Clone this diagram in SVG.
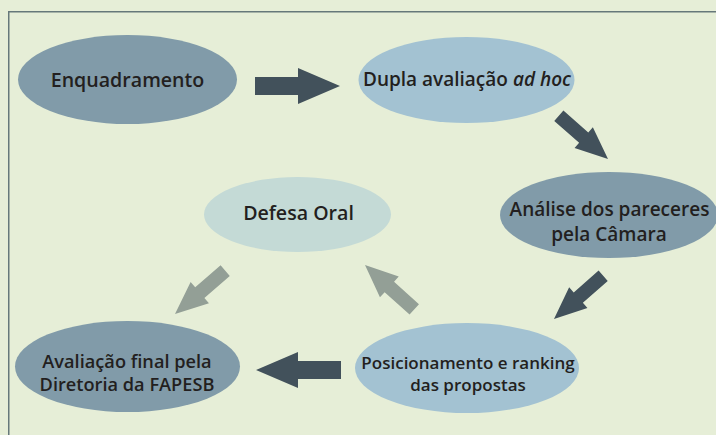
<svg xmlns="http://www.w3.org/2000/svg" width="716" height="435" viewBox="0 0 716 435">
  <defs>
    <style>
      .bg { fill: #e6eed7; }
      .frame { fill: none; stroke: #66787a; stroke-width: 1.5; }
      .dark { fill: #819ba9; }
      .light { fill: #a3c2d2; }
      .pale { fill: #c4dad6; }
      .lbl { font-family: "Open Sans", "Noto Sans", "DejaVu Sans", sans-serif; font-weight: 600; fill: #231f20; text-anchor: middle; }
      .a-dark { fill: #42515b; }
      .a-gray { fill: #939f96; }
    </style>
    <path id="arrow" d="M0,0 L-42,-18 L-42,-9 L-85,-9 L-85,9 L-42,9 L-42,18 Z"/>
  </defs>
  <rect class="bg" x="0" y="0" width="716" height="435"/>
  <rect class="frame" x="8.75" y="11.75" width="720" height="440"/>

  <g id="enquadramento">
    <ellipse class="dark" cx="127.5" cy="79.5" rx="109.5" ry="44.5"/>
    <text class="lbl" x="127.5" y="87" font-size="19.6">Enquadramento</text>
  </g>
  <g id="dupla-avaliacao">
    <ellipse class="light" cx="466.5" cy="80" rx="108" ry="43"/>
    <text class="lbl" x="467" y="86" font-size="19">Dupla avaliação <tspan font-style="italic">ad hoc</tspan></text>
  </g>
  <g id="analise-pareceres">
    <ellipse class="dark" cx="609" cy="215" rx="109" ry="43"/>
    <text class="lbl" x="609.5" y="216" font-size="19">Análise dos pareceres</text>
    <text class="lbl" x="609" y="240.5" font-size="19">pela Câmara</text>
  </g>
  <g id="defesa-oral">
    <ellipse class="pale" cx="297.5" cy="214.5" rx="93.5" ry="37.5"/>
    <text class="lbl" x="298.5" y="220" font-size="19.6">Defesa Oral</text>
  </g>
  <g id="posicionamento-ranking">
    <ellipse class="light" cx="467" cy="368" rx="112" ry="45"/>
    <text class="lbl" x="468" y="369" font-size="17">Posicionamento e ranking</text>
    <text class="lbl" x="468" y="391" font-size="17">das propostas</text>
  </g>
  <g id="avaliacao-final">
    <ellipse class="dark" cx="127.5" cy="366.5" rx="112.5" ry="45.5"/>
    <text class="lbl" x="127" y="368" font-size="18.2">Avaliação final pela</text>
    <text class="lbl" x="127" y="391" font-size="18.2">Diretoria da FAPESB</text>
  </g>

  <g id="connectors">
    <use href="#arrow" class="a-dark" transform="translate(340,86)"/>
    <use href="#arrow" class="a-dark" transform="translate(608,159) rotate(41.3) scale(0.77)"/>
    <use href="#arrow" class="a-dark" transform="translate(554,319) rotate(138.7) scale(0.77)"/>
    <use href="#arrow" class="a-dark" transform="translate(256,370) rotate(180)"/>
    <use href="#arrow" class="a-gray" transform="translate(365,265) rotate(-138) scale(0.78)"/>
    <use href="#arrow" class="a-gray" transform="translate(175,314) rotate(139.2) scale(0.78)"/>
  </g>
</svg>
